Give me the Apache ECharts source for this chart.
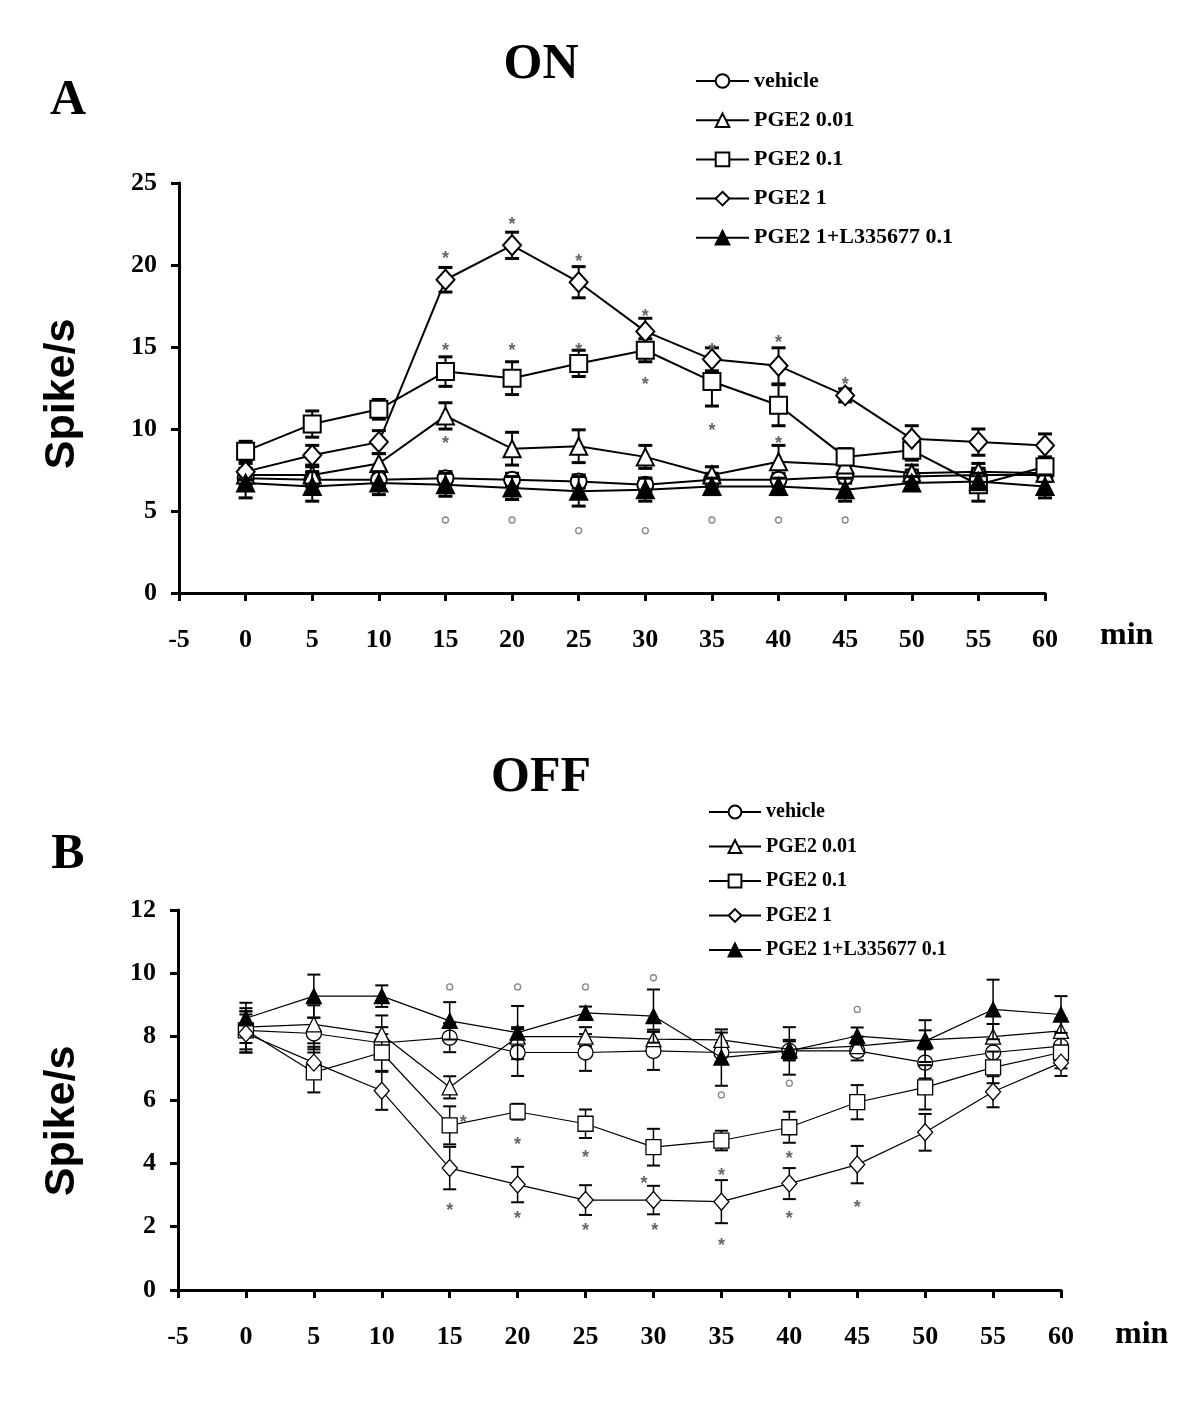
<!DOCTYPE html>
<html><head><meta charset="utf-8">
<script src="https://cdn.jsdelivr.net/npm/echarts@6/dist/echarts.min.js"></script>
<style>html,body{margin:0;padding:0;background:#fff}#c{width:1200px;height:1420px}</style>
</head><body><div id="c"></div>
<script>
// ---------- data ----------
const minutes = [0,5,10,15,20,25,30,35,40,45,50,55,60];
const legendNames = ['vehicle','PGE2 0.01','PGE2 0.1','PGE2 1','PGE2 1+L335677 0.1'];

// Panel A: ON cells (Spike/s)
const onVehicle     = [7.0,6.9,6.9,7.0,6.9,6.8,6.6,6.9,6.9,7.1,7.1,7.2,7.2];
const onVehicleErr  = [0.4,0.4,0.4,0.4,0.4,0.4,0.4,0.4,0.4,0.4,0.4,0.4,0.4];
const onPGE001      = [7.2,7.2,7.9,10.8,8.8,8.95,8.3,7.2,8.0,7.8,7.3,7.4,7.3];
const onPGE001Err   = [0.4,0.5,0.6,0.8,1.0,1.0,0.7,0.5,1.0,0.4,0.5,0.5,0.4];
const onPGE01       = [8.65,10.3,11.2,13.5,13.1,14.0,14.8,12.9,11.45,8.3,8.7,6.6,7.7];
const onPGE01Err    = [0.6,0.8,0.6,0.9,1.0,0.8,0.7,1.5,1.25,0.5,0.6,1.0,0.5];
const onPGE1        = [7.4,8.4,9.2,19.1,21.2,18.95,15.95,14.25,13.85,12.05,9.4,9.2,9.0];
const onPGE1Err     = [0.5,0.6,0.7,0.75,0.8,0.95,0.8,0.7,1.1,0.4,0.8,0.8,0.7];
const onPGE1L       = [6.7,6.5,6.7,6.6,6.4,6.2,6.3,6.5,6.5,6.3,6.7,6.8,6.5];
const onPGE1LErr    = [0.9,0.9,0.7,0.7,0.7,0.9,0.7,0.5,0.5,0.7,0.4,0.5,0.7];
const onStars   = [[15,20.6],[15,15.0],[15,9.3],[20,22.7],[20,15.0],[25,20.4],[25,15.0],
                   [30,17.1],[30,12.9],[35,15.0],[35,10.1],[40,15.5],[40,9.3],[45,12.9]];
const onCircles = [[15,4.45],[20,4.45],[25,3.8],[30,3.8],[35,4.45],[40,4.45],[45,4.45]];

// Panel B: OFF cells (Spike/s)
const offVehicle    = [8.2,8.1,7.8,7.97,7.5,7.5,7.55,7.5,7.55,7.55,7.18,7.5,7.7];
const offVehicleErr = [0.6,0.5,0.5,0.46,0.74,0.58,0.6,0.3,0.75,0.3,0.5,0.4,0.4];
const offPGE001     = [8.3,8.39,8.07,6.4,8.0,8.0,7.92,7.9,7.6,7.7,7.9,8.0,8.18];
const offPGE001Err  = [0.5,0.6,0.6,0.35,0.3,0.3,0.3,0.23,0.3,0.3,0.3,0.4,0.4];
const offPGE01      = [8.2,6.87,7.5,5.2,5.63,5.25,4.51,4.72,5.14,5.93,6.4,7.03,7.5];
const offPGE01Err   = [0.7,0.63,0.58,0.6,0.25,0.45,0.58,0.31,0.49,0.54,0.7,0.5,0.5];
const offPGE1       = [8.1,7.18,6.29,3.85,3.33,2.84,2.84,2.79,3.36,3.96,4.98,6.26,7.18];
const offPGE1Err    = [0.6,0.5,0.6,0.67,0.56,0.47,0.45,0.68,0.49,0.59,0.58,0.49,0.42];
const offPGE1L      = [8.58,9.28,9.28,8.5,8.13,8.75,8.65,7.34,7.55,8.02,7.86,8.86,8.7];
const offPGE1LErr   = [0.49,0.68,0.34,0.59,0.84,0.2,0.84,0.89,0.3,0.27,0.66,0.94,0.58];
const offStars   = [[15,2.63],[16,5.4],[20,4.72],[20,2.37],[25,4.3],[25,2.0],[29.3,3.47],
                    [30.1,2.0],[35,3.73],[35,1.53],[40,4.27],[40,2.37],[45,2.73]];
const offCircles = [[15,9.57],[20,9.57],[25,9.57],[30,9.86],[35,6.16],[40,6.53],[45,8.86]];

// ---------- build ----------
const SERIF = '"Liberation Serif","Times New Roman",serif';
const SANS = '"Liberation Sans",Arial,sans-serif';
const symbols = ['circle','triangle','rect','diamond','triangle'];
const fills = ['#fff','#fff','#fff','#fff','#000'];

function pairs(vals){ return minutes.map((m,i)=>[m, vals[i]]); }
function triples(vals, errs){ return minutes.map((m,i)=>[m, vals[i], errs[i]]); }

function panelSeries(idx, vals, errs, opt, nameSuffix){
  const out = [];
  vals.forEach((v,k)=>{
    out.push({
      type:'custom', xAxisIndex:idx, yAxisIndex:idx, silent:true, z:2+k,
      data: triples(v, errs[k]), encode:{x:0,y:1},
      renderItem:(params, api)=>{
        const x=api.value(0), y=api.value(1), e=api.value(2);
        const t=api.coord([x,y+e]), b=api.coord([x,y-e]);
        const hw=opt.cap/2, st={stroke:'#000', lineWidth:opt.errW};
        return {type:'group', children:[
          {type:'line', shape:{x1:t[0],y1:t[1],x2:b[0],y2:b[1]}, style:st},
          {type:'line', shape:{x1:t[0]-hw,y1:t[1],x2:t[0]+hw,y2:t[1]}, style:{stroke:'#000',lineWidth:opt.capW}},
          {type:'line', shape:{x1:b[0]-hw,y1:b[1],x2:b[0]+hw,y2:b[1]}, style:{stroke:'#000',lineWidth:opt.capW}}
        ]};
      }
    });
    out.push({
      type:'line', name: legendNames[k] + nameSuffix, xAxisIndex:idx, yAxisIndex:idx,
      data: pairs(v), symbol: symbols[k],
      symbolSize: k===3 ? opt.diamond : (k===0 ? opt.circle : opt.size),
      showAllSymbol:true, animation:false, z:3+k,
      lineStyle:{color:'#000', width:opt.lineW},
      itemStyle:{color:fills[k], borderColor:'#000', borderWidth:opt.borderW, opacity:1},
      emphasis:{disabled:true}
    });
  });
  return out;
}

function annotations(idx, stars, circles){
  return [
    {type:'custom', xAxisIndex:idx, yAxisIndex:idx, silent:true, z:20,
     data: stars, encode:{x:0,y:1},
     renderItem:(params, api)=>{
       const p=api.coord([api.value(0), api.value(1)]);
       return {type:'text', x:p[0], y:p[1]+4,
         style:{text:'*', fill:'#666', font:'bold 18px '+SANS, align:'center', verticalAlign:'middle'}};
     }},
    {type:'scatter', xAxisIndex:idx, yAxisIndex:idx, silent:true, z:20,
     data: circles, symbol:'circle', symbolSize:6,
     itemStyle:{color:'#fff', borderColor:'#666', borderWidth:1.3}}
  ];
}

const optA = {cap:14, errW:2, capW:3, lineW:2, borderW:2, size:17, circle:16, diamond:[18,20]};
const optB = {cap:13, errW:1.5, capW:2, lineW:1.2, borderW:1.3, size:15, circle:15, diamond:[15,17]};

const series = [].concat(
  panelSeries(0, [onVehicle,onPGE001,onPGE01,onPGE1,onPGE1L],
                 [onVehicleErr,onPGE001Err,onPGE01Err,onPGE1Err,onPGE1LErr], optA, ''),
  annotations(0, onStars, onCircles),
  panelSeries(1, [offVehicle,offPGE001,offPGE01,offPGE1,offPGE1L],
                 [offVehicleErr,offPGE001Err,offPGE01Err,offPGE1Err,offPGE1LErr], optB, ' '),
  annotations(1, offStars, offCircles)
);

function xAxis(gi){
  return {type:'value', gridIndex:gi, min:-5, max:60, interval:5,
    axisLine:{onZero:false, lineStyle:{color:'#000', width:3}},
    axisTick:{show:true, inside:false, length:8, lineStyle:{color:'#000', width:3}},
    splitLine:{show:false},
    axisLabel:{color:'#000', fontFamily:SERIF, fontWeight:'bold', fontSize:26, margin:34,
               showMinLabel:true, showMaxLabel:true}};
}
function yAxis(gi, max, step){
  return {type:'value', gridIndex:gi, min:0, max:max, interval:step,
    axisLine:{show:true, onZero:false, lineStyle:{color:'#000', width:3}},
    axisTick:{show:true, inside:false, length:8, lineStyle:{color:'#000', width:3}},
    splitLine:{show:false},
    axisLabel:{color:'#000', fontFamily:SERIF, fontWeight:'bold', fontSize:26, margin:22}};
}

const legendText = (size)=>({color:'#000', fontFamily:SERIF, fontWeight:'bold', fontSize:size, lineHeight:size});

const option = {
  backgroundColor:'#fff',
  animation:false,
  grid:[
    {left:179, top:183, width:866, height:410},
    {left:178, top:910, width:883, height:380}
  ],
  xAxis:[xAxis(0), xAxis(1)],
  yAxis:[yAxis(0,25,5), yAxis(1,12,2)],
  legend:[
    {orient:'vertical', left:690, top:65, itemWidth:53, itemHeight:17, itemGap:17.2,
     selectedMode:false, data:legendNames.slice(), textStyle:legendText(22)},
    {orient:'vertical', left:703, top:797, itemWidth:52, itemHeight:16, itemGap:14.5,
     selectedMode:false, data:legendNames.map(n=>n+' '), textStyle:legendText(20),
     formatter:(n)=>n.trim()}
  ],
  graphic:[
    {type:'text', x:541, y:65, style:{text:'ON', font:'bold 50px '+SERIF, fill:'#000', align:'center', verticalAlign:'middle'}},
    {type:'text', x:541, y:778, style:{text:'OFF', font:'bold 50px '+SERIF, fill:'#000', align:'center', verticalAlign:'middle'}},
    {type:'text', x:68, y:101, style:{text:'A', font:'bold 50px '+SERIF, fill:'#000', align:'center', verticalAlign:'middle'}},
    {type:'text', x:68, y:855, style:{text:'B', font:'bold 50px '+SERIF, fill:'#000', align:'center', verticalAlign:'middle'}},
    {type:'text', x:62, y:394, rotation:Math.PI/2, style:{text:'Spike/s', font:'bold 43px '+SANS, fill:'#000', align:'center', verticalAlign:'middle'}},
    {type:'text', x:62, y:1121, rotation:Math.PI/2, style:{text:'Spike/s', font:'bold 43px '+SANS, fill:'#000', align:'center', verticalAlign:'middle'}},
    {type:'text', x:1100, y:636, style:{text:'min', font:'bold 32px '+SERIF, fill:'#000', align:'left', verticalAlign:'middle'}},
    {type:'text', x:1115, y:1335, style:{text:'min', font:'bold 32px '+SERIF, fill:'#000', align:'left', verticalAlign:'middle'}}
  ],
  series: series
};

const chart = echarts.init(document.getElementById('c'), null, {renderer:'canvas'});
chart.setOption(option);
</script>
</body></html>
